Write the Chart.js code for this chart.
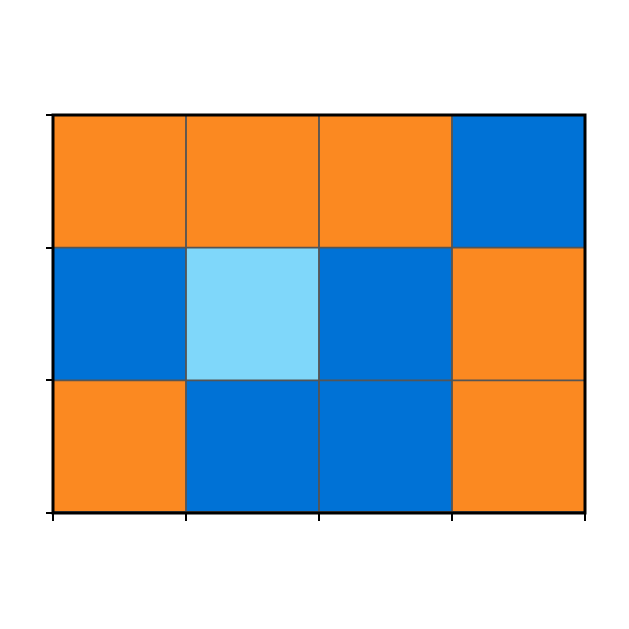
<!DOCTYPE html>
<html>
<head>
<meta charset="utf-8">
<script src="https://cdn.jsdelivr.net/npm/chart.js@4"></script>
<style>
  html, body { margin: 0; padding: 0; background: #fff; }
  #wrap { width: 629px; height: 629px; }
</style>
</head>
<body>
<div id="wrap"><canvas id="grid"></canvas></div>
<script>
// Columns and rows of the grid (rows listed bottom to top)
const columns = ['A', 'B', 'C', 'D'];
const rows = ['r1', 'r2', 'r3'];
// Cell level per row: 0 = orange, 1 = blue, 2 = light blue
const rowBottom = [0, 1, 1, 0];
const rowMiddle = [1, 2, 1, 0];
const rowTop = [0, 0, 0, 1];
const levelColors = ['#FB8921', '#0072D6', '#7FD7FA'];

const rowLevels = [rowBottom, rowMiddle, rowTop];

// frame around the plot area, drawn on top of the cells
const framePlugin = {
  id: 'frame',
  afterDatasetsDraw(chart) {
    const { ctx, chartArea } = chart;
    ctx.save();
    ctx.strokeStyle = '#000';
    ctx.lineWidth = 3;
    ctx.strokeRect(chartArea.left, chartArea.top,
      chartArea.right - chartArea.left, chartArea.bottom - chartArea.top);
    ctx.restore();
  }
};

new Chart(document.getElementById('grid'), {
  type: 'bar',
  data: {
    labels: columns,
    datasets: rowLevels.map((levels, i) => ({
      label: rows[i],
      data: levels.map(() => 1),
      backgroundColor: levels.map(l => levelColors[l]),
      borderColor: '#555555',
      borderWidth: 1.25,
      borderSkipped: false,
      barPercentage: 1,
      categoryPercentage: 1
    }))
  },
  options: {
    responsive: true,
    maintainAspectRatio: false,
    animation: false,
    layout: { padding: { left: 46, right: 44, top: 115, bottom: 108 } },
    plugins: { legend: { display: false }, tooltip: { enabled: false } },
    scales: {
      x: {
        stacked: true,
        offset: true,
        grid: { offset: true, drawOnChartArea: false, tickLength: 8, tickColor: '#000', lineWidth: 2 },
        border: { display: false },
        ticks: { display: false },
        afterFit(axis) { axis.height = 8; }
      },
      y: {
        stacked: true,
        min: 0,
        max: rows.length,
        grid: { drawOnChartArea: false, tickLength: 7, tickColor: '#000', lineWidth: 2 },
        border: { display: false },
        ticks: { display: false, stepSize: 1 },
        afterFit(axis) { axis.width = 7; }
      }
    }
  },
  plugins: [framePlugin]
});
</script>
</body>
</html>
